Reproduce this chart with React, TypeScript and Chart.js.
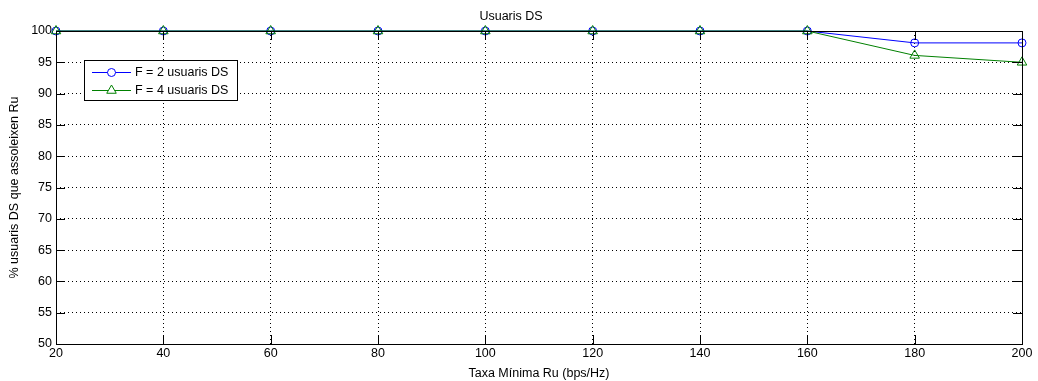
import React, { useEffect, useRef } from "react";
import { Chart, registerables } from "chart.js";

Chart.register(...registerables);

const rates = [20, 40, 60, 80, 100, 120, 140, 160, 180, 200];
const seriesF2 = [100, 100, 100, 100, 100, 100, 100, 100, 98.1, 98.1];
const seriesF4 = [100, 100, 100, 100, 100, 100, 100, 100, 96.1, 95.0];
const seriesLabels = ["F = 2 usuaris DS", "F = 4 usuaris DS"];
const chartTitle = "Usuaris DS";
const xTitle = "Taxa Mínima Ru (bps/Hz)";
const yTitle = "% usuaris DS que assoleixen Ru";

const FONT = "'Liberation Sans', Arial, sans-serif";
const FS = 12.5;

const boxPlugin = {
  id: "matlabBox",
  afterDatasetsDraw(chart: any) {
    const { ctx, chartArea: a, scales } = chart;
    const tl = 9;
    ctx.save();
    ctx.strokeStyle = "#000";
    ctx.lineWidth = 1;
    ctx.setLineDash([]);
    ctx.beginPath();
    for (const v of rates) {
      const x = Math.round(scales.x.getPixelForValue(v)) + 0.5;
      ctx.moveTo(x, a.bottom);
      ctx.lineTo(x, a.bottom - tl);
      ctx.moveTo(x, a.top);
      ctx.lineTo(x, a.top + tl);
    }
    for (let v = 50; v <= 100; v += 5) {
      const y = Math.round(scales.y.getPixelForValue(v)) + 0.5;
      ctx.moveTo(a.left, y);
      ctx.lineTo(a.left + tl, y);
      ctx.moveTo(a.right, y);
      ctx.lineTo(a.right - tl, y);
    }
    ctx.stroke();
    ctx.strokeRect(
      Math.round(a.left) + 0.5,
      Math.round(a.top) + 0.5,
      Math.round(a.right - a.left),
      Math.round(a.bottom - a.top)
    );
    ctx.restore();
  },
  afterDraw(chart: any) {
    const { ctx } = chart;
    const ds = chart.data.datasets;
    const bx = 84.5, by = 60.5, bw = 153, bh = 40;
    ctx.save();
    ctx.fillStyle = "#fff";
    ctx.fillRect(bx, by, bw, bh);
    ctx.strokeStyle = "#000";
    ctx.lineWidth = 1;
    ctx.strokeRect(bx, by, bw, bh);
    ctx.font = `${FS}px ${FONT}`;
    ctx.textBaseline = "middle";
    ds.forEach((d: any, i: number) => {
      const y = 72.5 + i * 18;
      ctx.strokeStyle = d.borderColor;
      ctx.beginPath();
      ctx.moveTo(92, y);
      ctx.lineTo(131, y);
      ctx.stroke();
      ctx.beginPath();
      if (d.pointStyle === "triangle") {
        const r = d.pointRadius;
        ctx.moveTo(111.5, y - r);
        ctx.lineTo(111.5 + r * 0.866, y + r * 0.5);
        ctx.lineTo(111.5 - r * 0.866, y + r * 0.5);
        ctx.closePath();
      } else {
        ctx.arc(111.5, y, d.pointRadius, 0, Math.PI * 2);
      }
      ctx.fillStyle = "#fff";
      ctx.fill();
      ctx.stroke();
      ctx.fillStyle = "#000";
      ctx.fillText(d.label, 135, y + 0.5);
    });
    ctx.restore();
  },
};

export default function App() {
  const ref = useRef<HTMLCanvasElement | null>(null);
  useEffect(() => {
    document.body.style.margin = "0";
    const canvas = ref.current;
    if (!canvas) return;
    const chart = new Chart(canvas, {
      type: "line",
      data: {
        datasets: [
          {
            label: seriesLabels[0],
            data: rates.map((x, i) => ({ x, y: seriesF2[i] })),
            borderColor: "#0000ff",
            backgroundColor: "rgba(0,0,0,0)",
            pointBackgroundColor: "rgba(0,0,0,0)",
            pointBorderColor: "#0000ff",
            pointStyle: "circle",
            pointRadius: 4,
            pointBorderWidth: 1,
            borderWidth: 1,
            tension: 0,
            clip: false as any,
            order: 1,
          },
          {
            label: seriesLabels[1],
            data: rates.map((x, i) => ({ x, y: seriesF4[i] })),
            borderColor: "#008000",
            backgroundColor: "rgba(0,0,0,0)",
            pointBackgroundColor: "rgba(0,0,0,0)",
            pointBorderColor: "#008000",
            pointStyle: "triangle",
            pointRadius: 5.5,
            pointBorderWidth: 1,
            borderWidth: 1,
            tension: 0,
            clip: false as any,
            order: 0,
          },
        ],
      },
      options: {
        animation: false,
        responsive: false,
        maintainAspectRatio: false,
        layout: { padding: { left: 0, right: 16, top: 0, bottom: 0 } },
        plugins: {
          legend: { display: false },
          tooltip: { enabled: false },
          title: {
            display: true,
            text: chartTitle,
            color: "#000",
            font: { family: FONT, size: FS, weight: "normal" },
            padding: { top: 9.5, bottom: 6.5 },
          },
        },
        scales: {
          x: {
            type: "linear",
            min: 20,
            max: 200,
            afterFit: (s: any) => {
              s.height = 37;
            },
            ticks: {
              stepSize: 20,
              color: "#000",
              padding: 2,
              maxRotation: 0,
              font: { family: FONT, size: FS },
            },
            grid: { color: "#000", lineWidth: 1, drawTicks: false },
            border: { display: false, dash: [1, 3] },
            title: {
              display: true,
              text: xTitle,
              color: "#000",
              font: { family: FONT, size: FS },
              padding: { top: 0, bottom: 0 },
            },
          },
          y: {
            min: 50,
            max: 100,
            afterFit: (s: any) => {
              s.width = 56;
            },
            ticks: {
              stepSize: 5,
              color: "#000",
              padding: 4,
              font: { family: FONT, size: FS },
            },
            grid: { color: "#000", lineWidth: 1, drawTicks: false },
            border: { display: false, dash: [1, 3] },
            title: {
              display: true,
              text: yTitle,
              color: "#000",
              font: { family: FONT, size: FS },
              padding: { top: 7, bottom: 0 },
            },
          },
        },
      } as any,
      plugins: [boxPlugin],
    });
    return () => chart.destroy();
  }, []);
  return (
    <div style={{ position: "fixed", left: 0, top: 0, width: 1038, height: 381, background: "#fff" }}>
      <canvas ref={ref} width={1038} height={381} style={{ width: 1038, height: 381 }} />
    </div>
  );
}
